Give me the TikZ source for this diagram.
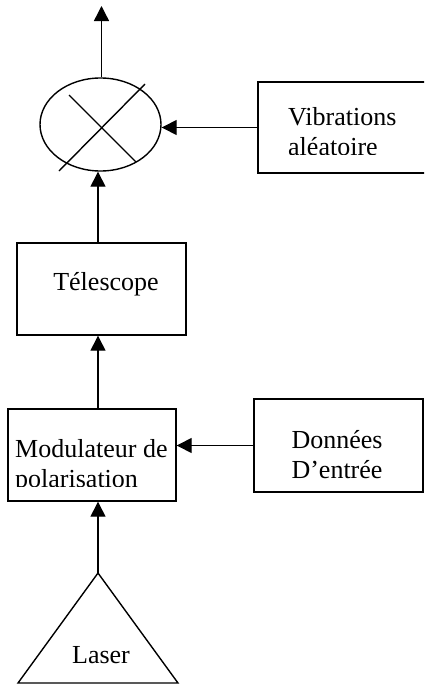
\documentclass[tikz,border=0pt]{standalone}
\usepackage{fontspec}
\setmainfont{Liberation Serif}
\usetikzlibrary{arrows.meta,shapes.geometric}
\tikzset{
  blk/.style={draw,line width=1.4pt,inner sep=0pt},
  arr/.style={line width=1.4pt,-{Triangle[length=15pt,width=15pt]}},
  lbl/.style={font=\fontsize{26}{30}\selectfont,inner sep=0pt}
}
\begin{document}
\begin{tikzpicture}[x=1pt,y=-1pt]
  \useasboundingbox (0,0) rectangle (424,688);
  \clip (0,0) rectangle (424,688);
  % mixer
  \node[blk,ellipse,minimum width=121pt,minimum height=93pt] (mix) at (100.5,124.5) {};
  \draw[line width=1.4pt] (69,95) -- (136,162) (145,84) -- (59,171);
  \coordinate (out) at (101.5,6);
  % boxes
  \node[blk,minimum width=173pt,minimum height=91pt] (vib) at (344.5,127.5) {};
  \node[blk,minimum width=169pt,minimum height=92pt] (tel) at (101.5,289) {};
  \node[blk,minimum width=168pt,minimum height=92pt] (mod) at (92,455) {};
  \node[blk,minimum width=169pt,minimum height=93pt] (don) at (338.5,445.5) {};
  % laser
  \coordinate (apex) at (98,573);
  \draw[line width=1.4pt,line join=miter] (apex) -- (178,683) -- (18,683) -- cycle;
  \node[lbl,anchor=base] (laser) at (101,663) {Laser};
  % texts, cut at the bottom of their frames
  \node[lbl,anchor=base] (teltxt) at (106,290) {Télescope};
  \begin{scope}
    \clip (258,82) rectangle (424,154);
    \node[lbl,anchor=base west] (vib1) at (288,125) {Vibrations};
    \node[lbl,anchor=base west] (vib2) at (288,155) {aléatoire};
  \end{scope}
  \begin{scope}
    \clip (8,409) rectangle (176,486);
    \node[lbl,anchor=base west] (mod1) at (15,457) {Modulateur de};
    \node[lbl,anchor=base west] (mod2) at (15,487) {polarisation};
  \end{scope}
  \begin{scope}
    \clip (254,399) rectangle (423,478);
    \node[lbl,anchor=base] (don1) at (337,448) {Données};
    \node[lbl,anchor=base] (don2) at (337,478) {D’entrée};
  \end{scope}
  % connectors
  \draw[arr] (mix.north -| out) -- (out);
  \draw[arr] (vib.west) -- (vib.west -| mix.east);
  \draw[arr] (tel.north -| apex) -- (mix.south -| apex);
  \draw[arr] (mod.north -| apex) -- (tel.south -| apex);
  \draw[arr] (don.west) -- (don.west -| mod.east);
  \draw[arr] (apex) -- (mod.south -| apex);
\end{tikzpicture}
\end{document}
